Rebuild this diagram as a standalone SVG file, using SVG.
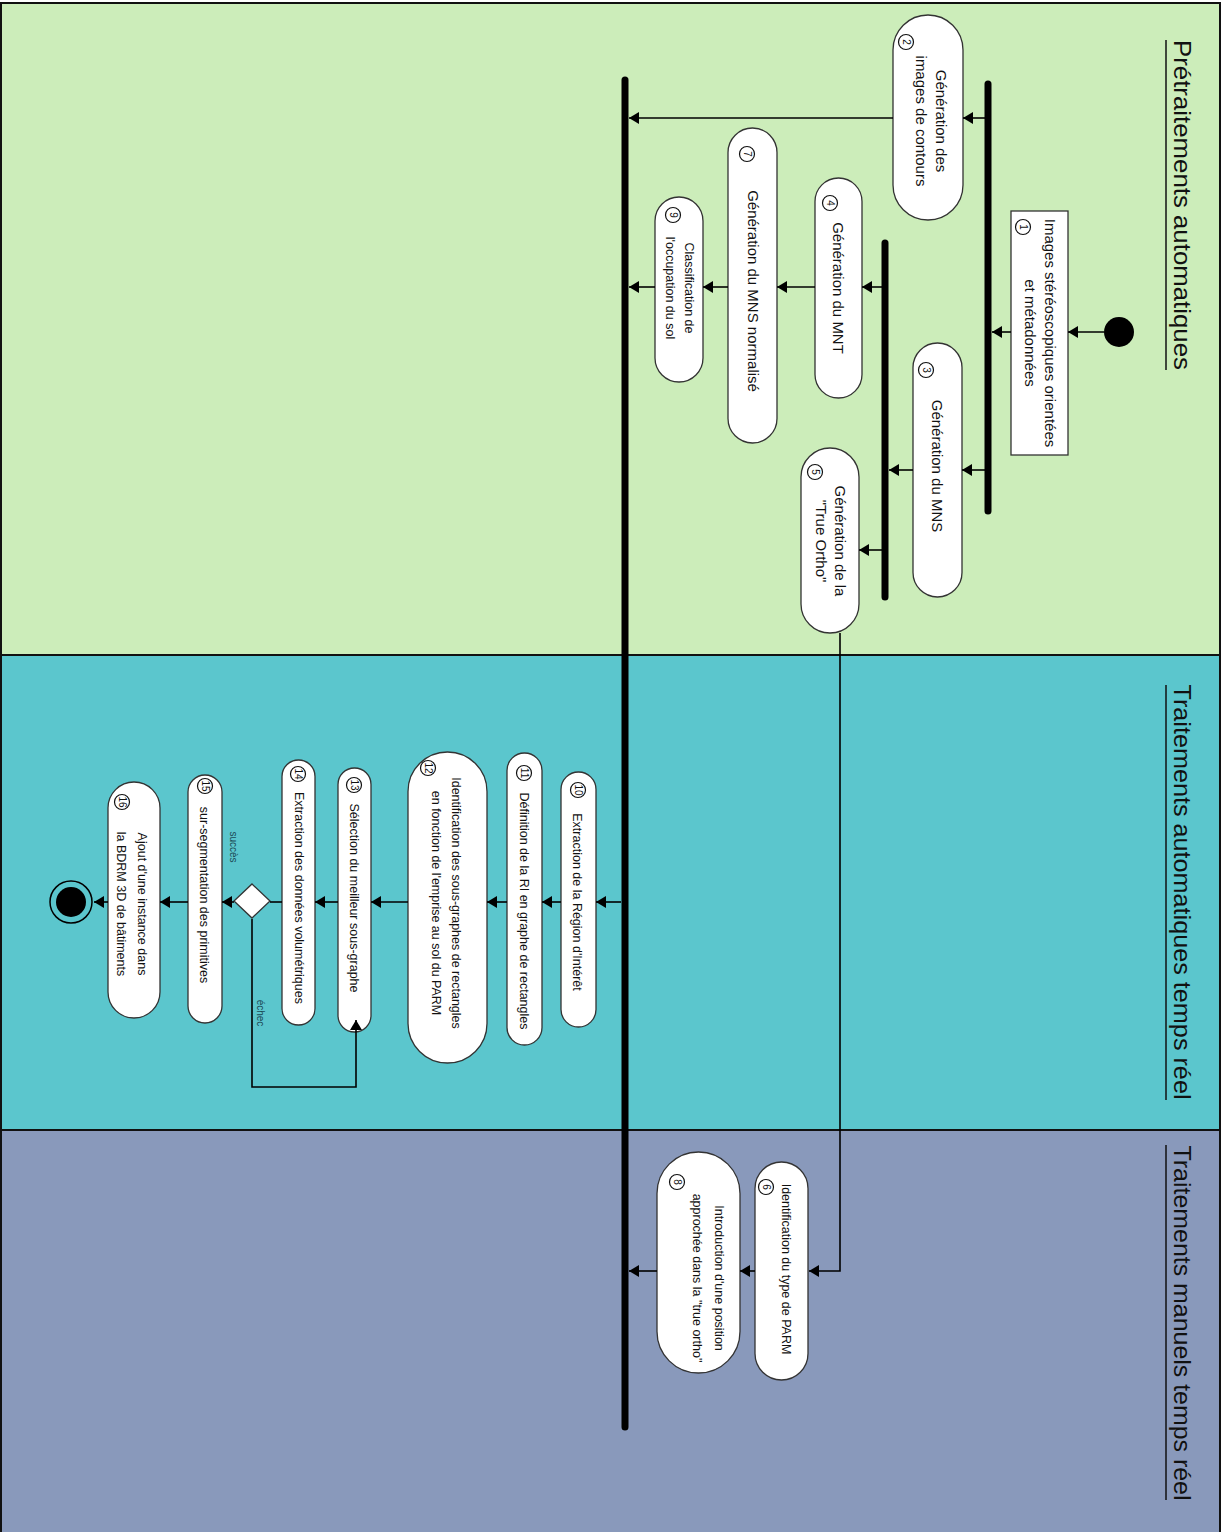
<svg xmlns="http://www.w3.org/2000/svg" width="1231" height="1532" viewBox="0 0 1231 1532">
<style>
.lane{stroke:#111;stroke-width:2}
.title{font-family:"Liberation Sans",Arial,sans-serif;font-size:24px;fill:#111}
.node{fill:#fff;stroke:#333;stroke-width:1.3}
.t{font-family:"Liberation Sans",Arial,sans-serif;fill:#111;text-anchor:middle;dominant-baseline:central}
.big{font-size:15px}
.sm{font-size:12.5px}
.num{fill:#fff;stroke:#111;stroke-width:1.2}
.n{font-family:"Liberation Sans",Arial,sans-serif;font-size:10px;fill:#111;text-anchor:middle;dominant-baseline:central}
.bar{stroke:#000;stroke-width:7;stroke-linecap:round}
.c{fill:none;stroke:#000;stroke-width:1.6}
.lbl{font-family:"Liberation Sans",Arial,sans-serif;font-size:10px;fill:#1b4a55;text-anchor:middle;dominant-baseline:central}
</style>
<defs>
<marker id="ah" markerUnits="userSpaceOnUse" markerWidth="10" markerHeight="12" refX="10" refY="6" orient="auto">
<path d="M0,0 L10,6 L0,12 z" fill="#000"/>
</marker>
</defs>
<g id="lanes">
<rect class="lane" x="1" y="3" width="1219" height="652" fill="#CCEDBA"/>
<rect class="lane" x="1" y="655" width="1219" height="475" fill="#5BC6CD"/>
<rect class="lane" x="1" y="1130" width="1219" height="410" fill="#8999BB"/>
<text class="title" transform="translate(1174,205) rotate(90)" text-anchor="middle" textLength="330" lengthAdjust="spacingAndGlyphs">Prétraitements automatiques</text>
<line x1="1166" y1="40" x2="1166" y2="370" stroke="#111" stroke-width="1.5"/>
<text class="title" transform="translate(1174,892) rotate(90)" text-anchor="middle" textLength="415" lengthAdjust="spacingAndGlyphs">Traitements automatiques temps réel</text>
<line x1="1166" y1="685" x2="1166" y2="1100" stroke="#111" stroke-width="1.5"/>
<text class="title" transform="translate(1174,1323) rotate(90)" text-anchor="middle" textLength="355" lengthAdjust="spacingAndGlyphs">Traitements manuels temps réel</text>
<line x1="1166" y1="1145" x2="1166" y2="1500" stroke="#111" stroke-width="1.5"/>
</g>
<g id="bars">
<line class="bar" x1="988" y1="84" x2="988" y2="511"/>
<line class="bar" x1="885" y1="243" x2="885" y2="597"/>
<line class="bar" x1="625" y1="80" x2="625" y2="1427"/>
</g>
<g id="start"><circle cx="1119" cy="332" r="15" fill="#000"/></g>
<g id="n1">
<rect class="node" x="1011" y="211" width="57" height="244"/>
<circle class="num" cx="1023" cy="227" r="7.5"/><text class="n" transform="translate(1023,227) rotate(90)">1</text>
<text class="t big" transform="translate(1050,333) rotate(90)">Images stéréoscopiques orientées</text>
<text class="t big" transform="translate(1030,333) rotate(90)">et métadonnées</text>
</g>
<g id="n2">
<rect class="node" x="893" y="15" width="70" height="205" rx="35"/>
<circle class="num" cx="906" cy="42" r="7.5"/><text class="n" transform="translate(906,42) rotate(90)">2</text>
<text class="t big" transform="translate(941,121) rotate(90)">Génération des</text>
<text class="t big" transform="translate(921,121) rotate(90)">images de contours</text>
</g>
<g id="n3">
<rect class="node" x="913" y="343" width="49" height="254" rx="24.5"/>
<circle class="num" cx="926" cy="370" r="7.5"/><text class="n" transform="translate(926,370) rotate(90)">3</text>
<text class="t big" transform="translate(937,466) rotate(90)">Génération du MNS</text>
</g>
<g id="n4">
<rect class="node" x="815" y="178" width="47" height="220" rx="23.5"/>
<circle class="num" cx="830" cy="203" r="7.5"/><text class="n" transform="translate(830,203) rotate(90)">4</text>
<text class="t big" transform="translate(838,288) rotate(90)">Génération du MNT</text>
</g>
<g id="n5">
<rect class="node" x="801" y="448" width="58" height="185" rx="29"/>
<circle class="num" cx="815" cy="472" r="7.5"/><text class="n" transform="translate(815,472) rotate(90)">5</text>
<text class="t big" transform="translate(840,541) rotate(90)">Génération de la</text>
<text class="t big" transform="translate(821,541) rotate(90)">"True Ortho"</text>
</g>
<g id="n7">
<rect class="node" x="728" y="128" width="49" height="315" rx="24.5"/>
<circle class="num" cx="747" cy="154" r="7.5"/><text class="n" transform="translate(747,154) rotate(90)">7</text>
<text class="t big" transform="translate(753,291) rotate(90)">Génération du MNS normalisé</text>
</g>
<g id="n9">
<rect class="node" x="655" y="197" width="48" height="185" rx="24"/>
<circle class="num" cx="673" cy="215" r="7.5"/><text class="n" transform="translate(673,215) rotate(90)">9</text>
<text class="t sm" transform="translate(689,288) rotate(90)">Classification de</text>
<text class="t sm" transform="translate(670,288) rotate(90)">l'occupation du sol</text>
</g>
<g id="n10">
<rect class="node" x="561" y="772" width="35" height="255" rx="17.5"/>
<circle class="num" cx="578" cy="790" r="7.5"/><text class="n" transform="translate(578,790) rotate(90)">10</text>
<text class="t sm" transform="translate(577,902) rotate(90)">Extraction de la Région d'Intérêt</text>
</g>
<g id="n11">
<rect class="node" x="507" y="753" width="35" height="292" rx="17.5"/>
<circle class="num" cx="524" cy="773" r="7.5"/><text class="n" transform="translate(524,773) rotate(90)">11</text>
<text class="t sm" transform="translate(524,911) rotate(90)">Définition de la RI en graphe de rectangles</text>
</g>
<g id="n12">
<rect class="node" x="408" y="752" width="79" height="311" rx="39.5"/>
<circle class="num" cx="428" cy="768" r="7.5"/><text class="n" transform="translate(428,768) rotate(90)">12</text>
<text class="t sm" transform="translate(456,903) rotate(90)">Identification des sous-graphes de rectangles</text>
<text class="t sm" transform="translate(436,903) rotate(90)">en fonction de l'emprise au sol du PARM</text>
</g>
<g id="n13">
<rect class="node" x="338" y="768" width="33" height="264" rx="16.5"/>
<circle class="num" cx="354" cy="785" r="7.5"/><text class="n" transform="translate(354,785) rotate(90)">13</text>
<text class="t sm" transform="translate(354,898) rotate(90)">Sélection du meilleur sous-graphe</text>
</g>
<g id="n14">
<rect class="node" x="282" y="760" width="33" height="265" rx="16.5"/>
<circle class="num" cx="298" cy="774" r="7.5"/><text class="n" transform="translate(298,774) rotate(90)">14</text>
<text class="t sm" transform="translate(299,898) rotate(90)">Extraction des données volumétriques</text>
</g>
<g id="decision">
<path d="M252,884 L270,901 L252,918 L234,901 z" fill="#fff" stroke="#333" stroke-width="1.3"/>
</g>
<g id="n15">
<rect class="node" x="188" y="775" width="34" height="248" rx="17"/>
<circle class="num" cx="205" cy="786" r="7.5"/><text class="n" transform="translate(205,786) rotate(90)">15</text>
<text class="t sm" transform="translate(204,895) rotate(90)">sur-segmentation des primitives</text>
</g>
<g id="n16">
<rect class="node" x="108" y="782" width="52" height="236" rx="26"/>
<circle class="num" cx="122" cy="802" r="7.5"/><text class="n" transform="translate(122,802) rotate(90)">16</text>
<text class="t sm" transform="translate(142,904) rotate(90)">Ajout d'une instance dans</text>
<text class="t sm" transform="translate(121,904) rotate(90)">la BDRM 3D de bâtiments</text>
</g>
<g id="end">
<circle cx="71" cy="902" r="21" fill="none" stroke="#000" stroke-width="1.5"/>
<circle cx="71" cy="902" r="15" fill="#000"/>
</g>
<g id="n6">
<rect class="node" x="755" y="1162" width="53" height="218" rx="26.5"/>
<circle class="num" cx="766" cy="1187" r="7.5"/><text class="n" transform="translate(766,1187) rotate(90)">6</text>
<text class="t sm" transform="translate(786,1269) rotate(90)">Identification du type de PARM</text>
</g>
<g id="n8">
<rect class="node" x="657" y="1152" width="83" height="221" rx="41.5"/>
<circle class="num" cx="677" cy="1182" r="7.5"/><text class="n" transform="translate(677,1182) rotate(90)">8</text>
<text class="t sm" transform="translate(719,1278) rotate(90)">Introduction d'une position</text>
<text class="t sm" transform="translate(697,1278) rotate(90)">approchée dans la "true ortho"</text>
</g>
<g id="connectors">
<path class="c" d="M1104,332 H1068" marker-end="url(#ah)"/>
<path class="c" d="M1011,332 H992" marker-end="url(#ah)"/>
<path class="c" d="M988,118 H963" marker-end="url(#ah)"/>
<path class="c" d="M893,118 H629" marker-end="url(#ah)"/>
<path class="c" d="M988,470 H962" marker-end="url(#ah)"/>
<path class="c" d="M913,470 H889" marker-end="url(#ah)"/>
<path class="c" d="M885,287 H862" marker-end="url(#ah)"/>
<path class="c" d="M885,550 H859" marker-end="url(#ah)"/>
<path class="c" d="M815,287 H777" marker-end="url(#ah)"/>
<path class="c" d="M728,287 H703" marker-end="url(#ah)"/>
<path class="c" d="M655,287 H629" marker-end="url(#ah)"/>
<path class="c" d="M840,633 V1271 H809" marker-end="url(#ah)"/>
<path class="c" d="M755,1271 H740" marker-end="url(#ah)"/>
<path class="c" d="M657,1271 H629" marker-end="url(#ah)"/>
<path class="c" d="M621,902 H596" marker-end="url(#ah)"/>
<path class="c" d="M561,902 H542" marker-end="url(#ah)"/>
<path class="c" d="M507,902 H487" marker-end="url(#ah)"/>
<path class="c" d="M408,902 H371" marker-end="url(#ah)"/>
<path class="c" d="M338,902 H315" marker-end="url(#ah)"/>
<path class="c" d="M282,902 H270"/>
<path class="c" d="M234,902 H222" marker-end="url(#ah)"/>
<path class="c" d="M188,902 H160" marker-end="url(#ah)"/>
<path class="c" d="M108,902 H94" marker-end="url(#ah)"/>
<path class="c" d="M252,919 V1087 H356 V1020" marker-end="url(#ah)"/>
<text class="lbl" transform="translate(233,847) rotate(90)">succès</text>
<text class="lbl" transform="translate(260,1013) rotate(90)">échec</text>
</g>
</svg>
